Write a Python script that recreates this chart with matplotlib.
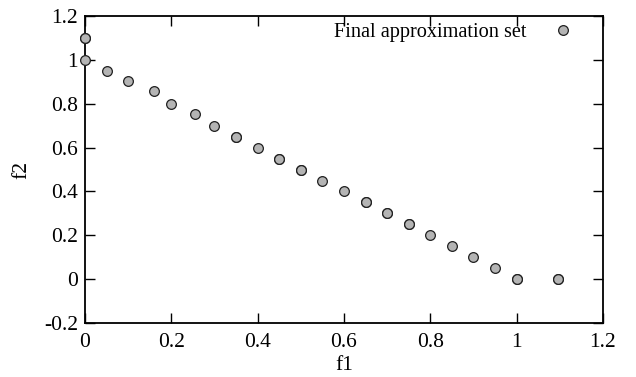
import matplotlib
matplotlib.use('Agg')
import matplotlib.pyplot as plt
from matplotlib.ticker import FormatStrFormatter

plt.rcParams['font.family'] = ['Liberation Serif', 'DejaVu Serif']
plt.rcParams['font.size'] = 15.5

# approximation set (duplicates drawn twice like the original output)
f1 = [0.0, 0.0, 0.0, 0.05, 0.1, 0.16, 0.2, 0.255, 0.3, 0.35, 0.35, 0.4, 0.45, 0.45,
      0.5, 0.5, 0.55, 0.6, 0.65, 0.65, 0.7, 0.7, 0.75, 0.75, 0.8, 0.85, 0.9, 0.95,
      1.0, 1.0, 1.095, 1.095]
f2 = [1.1, 1.1, 1.0, 0.95, 0.905, 0.86, 0.8, 0.755, 0.7, 0.65, 0.65, 0.6, 0.55, 0.55,
      0.5, 0.5, 0.45, 0.4, 0.35, 0.35, 0.3, 0.3, 0.25, 0.25, 0.2, 0.15, 0.1, 0.05,
      0.0, 0.0, 0.0, 0.0]

xticks = [0, 0.2, 0.4, 0.6, 0.8, 1.0, 1.2]
yticks = [-0.2, 0, 0.2, 0.4, 0.6, 0.8, 1.0, 1.2]

fig = plt.figure(figsize=(6.36, 3.77), dpi=100)
ax = fig.add_axes([0.1336, 0.143, 0.8144, 0.8146])

ax.plot(f1, f2, 'o', ls='none', ms=7, mfc='#b4b4b4', mec='#202020', mew=0.9,
        label='Final approximation set', clip_on=False, zorder=3)

ax.set_xlim(0, 1.2)
ax.set_ylim(-0.2, 1.2)
ax.set_xticks(xticks)
ax.set_yticks(yticks)
ax.xaxis.set_major_formatter(FormatStrFormatter('%g'))
ax.yaxis.set_major_formatter(FormatStrFormatter('%g'))
ax.tick_params(direction='in', top=True, right=True, length=7, width=1, pad=5)
ax.tick_params(axis='x', pad=7)
for s in ax.spines.values():
    s.set_linewidth(1.3)

ax.set_xlabel('f1', labelpad=3)
ax.set_ylabel('f2', labelpad=9)

ax.legend(loc='center right', bbox_to_anchor=(0.9006, 0.915), bbox_transform=fig.transFigure,
          frameon=False, markerfirst=False, handletextpad=1.3, borderpad=0,
          borderaxespad=0, handlelength=1.0, fontsize=14.6)

fig.savefig('out.png', dpi=100)
